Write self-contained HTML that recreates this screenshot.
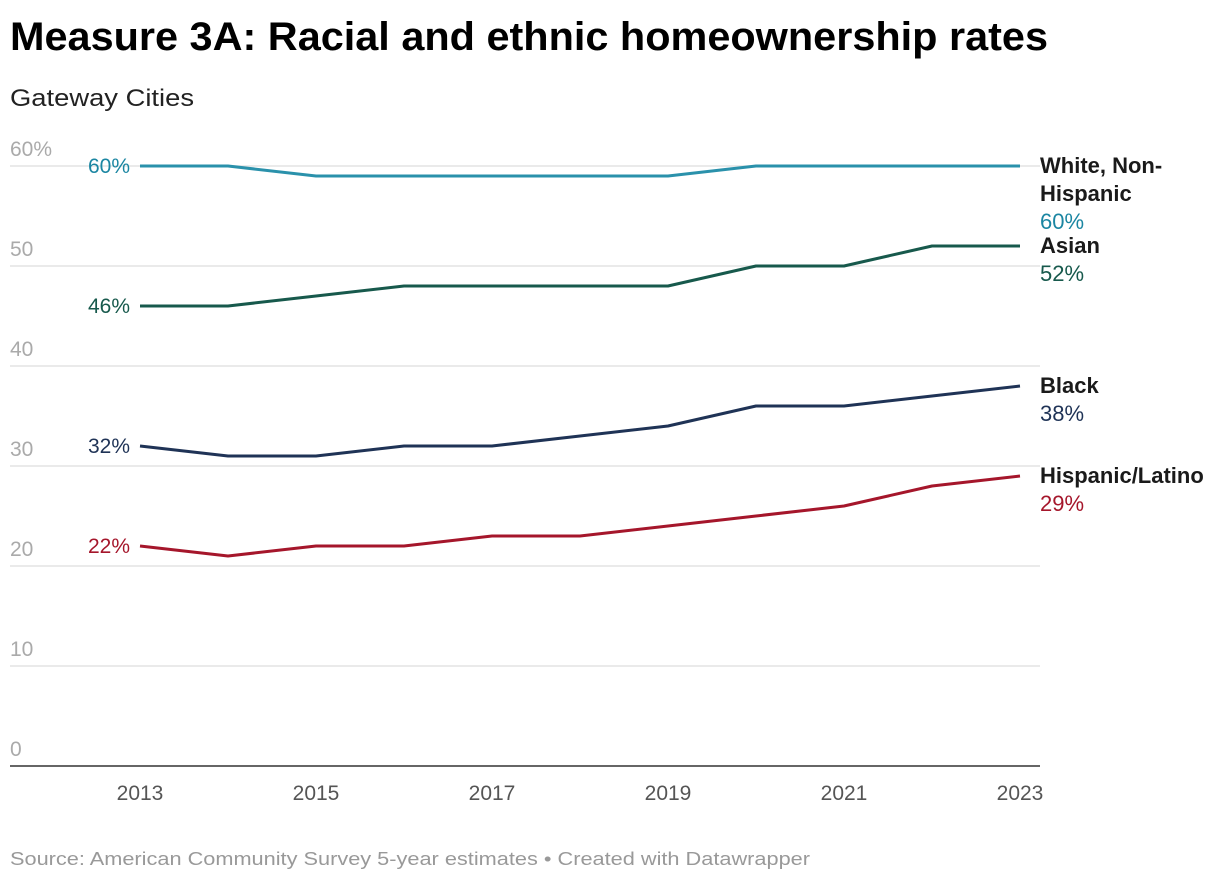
<!DOCTYPE html>
<html><head><meta charset="utf-8"><style>
html,body{margin:0;padding:0;background:#fff;}
svg{display:block;font-family:"Liberation Sans",sans-serif;}
</style></head><body>
<svg id="chart" width="1220" height="882" viewBox="0 0 1220 882">
<text x="10" y="50" font-size="40" font-weight="bold" fill="#000" textLength="1038" lengthAdjust="spacingAndGlyphs">Measure 3A: Racial and ethnic homeownership rates</text>
<text x="10" y="106" font-size="24" fill="#222" textLength="184" lengthAdjust="spacingAndGlyphs">Gateway Cities</text>
<g id="grid"></g><g id="lines"></g><g id="labels"></g>
<text x="10" y="865" font-size="18" fill="#999" textLength="800" lengthAdjust="spacingAndGlyphs">Source: American Community Survey 5-year estimates • Created with Datawrapper</text>
</svg>
<script>
const years=[2013,2014,2015,2016,2017,2018,2019,2020,2021,2022,2023];
const xTicks=[2013,2015,2017,2019,2021,2023];
const yTicks=[0,10,20,30,40,50,60];
const seriesNames=["White, Non-Hispanic","Asian","Black","Hispanic/Latino"];
const white=[60,60,59,59,59,59,59,60,60,60,60];
const asian=[46,46,47,48,48,48,48,50,50,52,52];
const black=[32,31,31,32,32,33,34,36,36,37,38];
const hispanic=[22,21,22,22,23,23,24,25,26,28,29];
const NS="http://www.w3.org/2000/svg";
const x=v=>140+(v-2013)*88;
const y=v=>766-v*10;
function mk(t,a,p){const e=document.createElementNS(NS,t);for(const k in a)e.setAttribute(k,a[k]);p.appendChild(e);return e;}
const grid=document.getElementById('grid'),lines=document.getElementById('lines'),labels=document.getElementById('labels');
yTicks.forEach(t=>{
 if(t>0){const l=mk('line',{x1:10,x2:1040,y1:y(t),y2:y(t),stroke:'#e3e3e3','stroke-width':1.5},grid);
 
 }
 const tx=mk('text',{x:10,y:y(t)-10,'font-size':21,fill:'#aaa'},grid);tx.textContent=t===60?'60%':String(t);
 
 
});
const ax=mk('line',{x1:10,x2:1040,y1:y(0),y2:y(0),stroke:'#333','stroke-width':1.5},grid);


xTicks.forEach(t=>{const tx=mk('text',{x:x(t),y:800,'font-size':21,fill:'#555','text-anchor':'middle'},grid);tx.textContent=t;
 
 });
const data=[white,asian,black,hispanic];
const stroke=['#2a91ab','#17594c','#1f3356','#a5162b'];
const lab=['#1b86a2','#17594c','#1f3356','#a5162b'];
const nameLines=[["White, Non-","Hispanic"],["Asian"],["Black"],["Hispanic/Latino"]];
data.forEach((d,i)=>{
 const p=mk('path',{d:d.map((v,j)=>(j?'L':'M')+x(years[j])+','+y(v)).join(''),fill:'none',stroke:stroke[i],'stroke-width':3,'stroke-linejoin':'round'},lines);
 
 
 const s=mk('text',{x:x(years[0])-10,y:y(d[0])+7,'font-size':21,fill:lab[i],'text-anchor':'end'},labels);s.textContent=d[0]+'%';
 
 
 const last=d[d.length-1];let yy=y(last)+7;
 nameLines[i].forEach((n,k)=>{const t=mk('text',{x:1040,y:yy+k*28,'font-size':22,'font-weight':'bold',fill:'#1a1a1a'},labels);t.textContent=n;
  
  });
 const e=mk('text',{x:1040,y:yy+nameLines[i].length*28,'font-size':22,fill:lab[i]},labels);e.textContent=last+'%';
 
 
});
</script>
</body></html>
